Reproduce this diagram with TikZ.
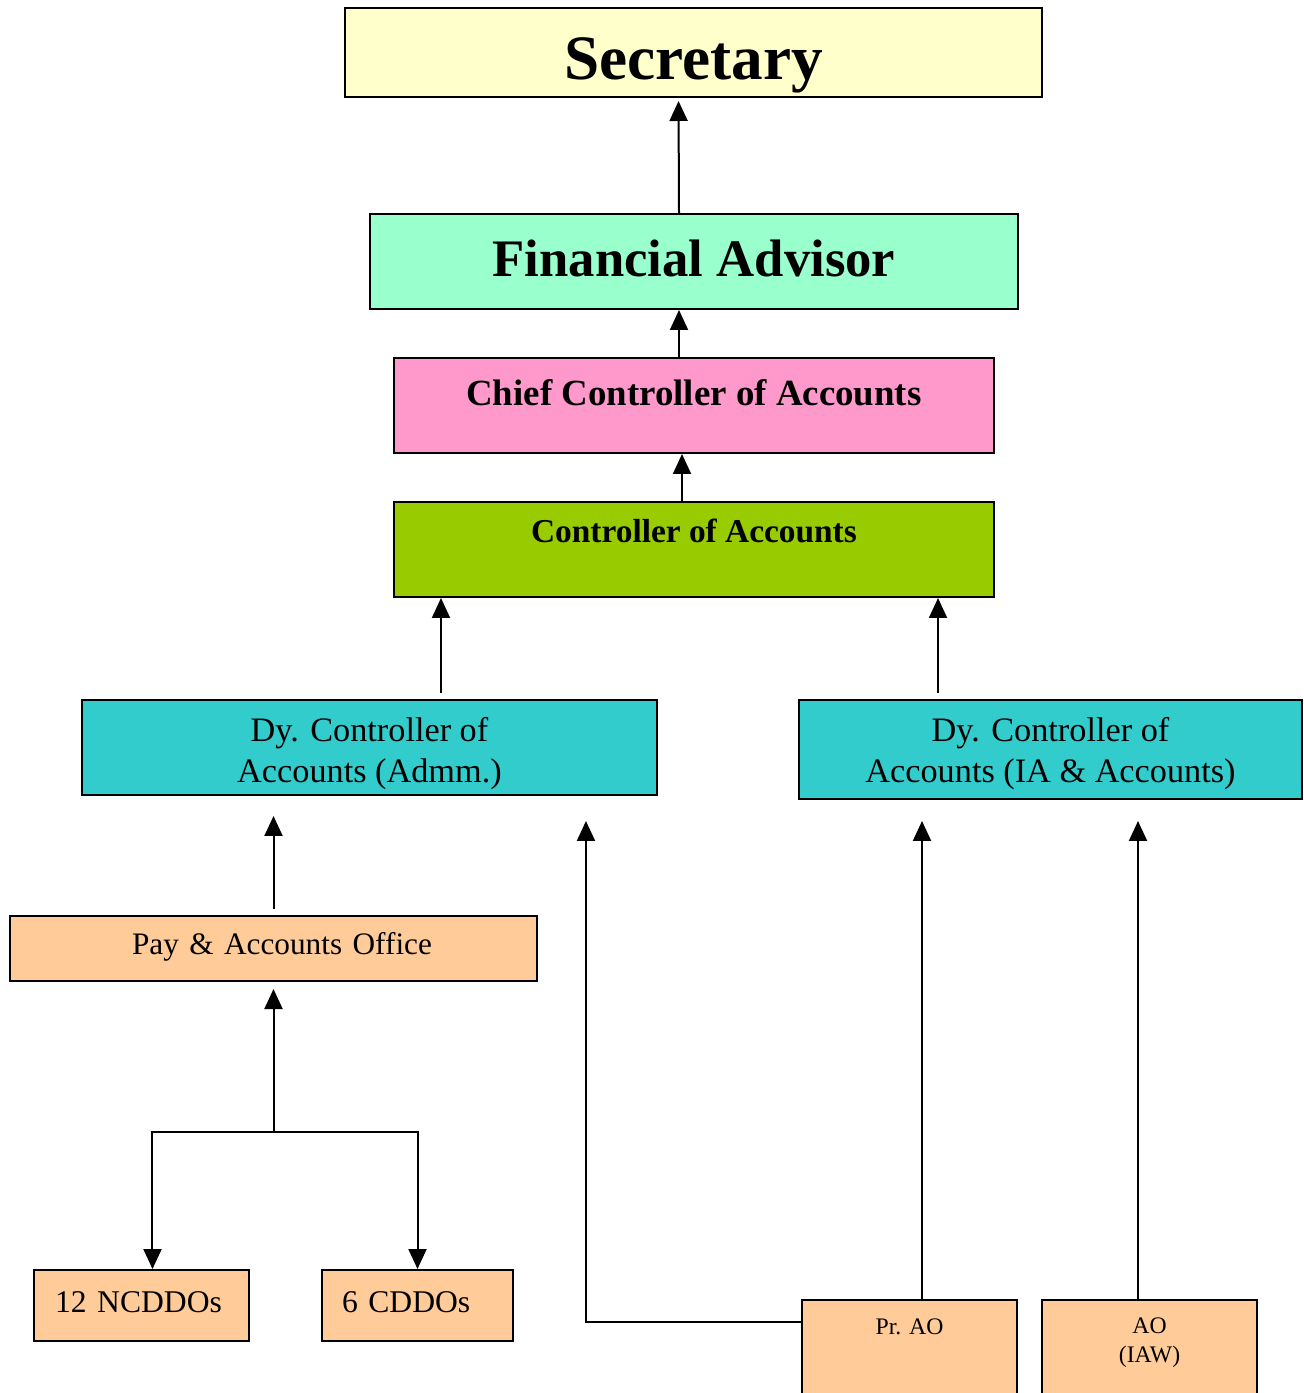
\documentclass[tikz,border=0pt]{standalone}
\usepackage{fontspec}
\setmainfont{Liberation Serif}
\usetikzlibrary{arrows.meta}
\definecolor{secyellow}{HTML}{FFFFCC}
\definecolor{famint}{HTML}{99FFCC}
\definecolor{ccapink}{HTML}{FF99CC}
\definecolor{coalime}{HTML}{99CC00}
\definecolor{dyteal}{HTML}{33CCCC}
\definecolor{officepeach}{HTML}{FFCC99}
\tikzset{
  box/.style={draw, line width=0.04cm, inner sep=0pt},
  dybox/.style={box, fill=dyteal, align=center, font=\fontsize{19.5}{23}\selectfont, text depth=0cm},
  ddo/.style={box, fill=officepeach, align=left, minimum height=1.42cm,
    font=\fontsize{18}{21}\selectfont, text height=0.46cm, text depth=0.2cm},
  ao/.style={box, fill=officepeach, align=center, minimum width=4.3cm, minimum height=2.8cm,
    font=\fontsize{13.5}{16}\selectfont, text height=0.3cm},
}
\begin{document}
\begin{tikzpicture}[x=0.02cm, y=-0.02cm]
  \useasboundingbox (0,0) rectangle (1303,1393);
  \path
    (693.5,52.5) node[box, fill=secyellow, minimum width=13.94cm, minimum height=1.78cm,
      font=\fontsize{36}{40}\selectfont\bfseries, text height=1.1cm, text depth=0cm] (sec){Secretary}
    (694,261.5) node[box, fill=famint, minimum width=12.96cm, minimum height=1.9cm,
      font=\fontsize{30}{34}\selectfont\bfseries, text height=0.58cm, text depth=0cm] (fa){Financial Advisor}
    (694,405.5) node[box, fill=ccapink, minimum width=12cm, minimum height=1.9cm,
      font=\fontsize{21}{25}\selectfont\bfseries, text height=0.3cm, text depth=0.3cm] (cca){Chief Controller of Accounts}
    (694,549.5) node[box, fill=coalime, minimum width=12cm, minimum height=1.9cm,
      font=\fontsize{19}{23}\selectfont\bfseries, text height=0.3cm, text depth=0.6cm] (coa){Controller of Accounts}
    (369.5,747.5) node[dybox, minimum width=11.5cm, minimum height=1.9cm, text height=1.38cm] (dyadm){Dy. Controller of\\Accounts (Admm.)}
    (1050.5,749.5) node[dybox, minimum width=10.06cm, minimum height=1.98cm, text height=1.3cm] (dyia){Dy. Controller of\\Accounts (IA \& Accounts)}
    (273.5,948.5) node[box, fill=officepeach, minimum height=1.3cm, align=right, text width=6.34cm, inner xsep=2.1cm,
      font=\fontsize{17.8}{21}\selectfont, text height=0.42cm, text depth=0.2cm] (pao){Pay \& Accounts Office}
    (141.5,1305.5) node[ddo, text width=3.46cm, inner xsep=0.42cm] (ncddo){12 NCDDOs}
    (417.5,1305.5) node[ddo, text width=3.02cm, inner xsep=0.4cm] (cddo){6 CDDOs}
    (909.5,1370) node[ao, text depth=1.74cm] (prao){Pr. AO}
    (1149.5,1370) node[ao, text depth=0.62cm] (aoiaw){AO\\(IAW)};
  \coordinate (fork) at (273.5,1132);
  \begin{scope}[-{Triangle[length=0.4cm, width=0.36cm]}, line width=0.04cm]
    \draw[shorten >=0.06cm] ([xshift=-0.3cm]fa.north) to ([xshift=-0.3cm]sec.south);
    \draw ([xshift=-0.3cm]cca.north) to ([xshift=-0.3cm]fa.south);
    \draw ([xshift=-0.24cm]coa.north) to ([xshift=-0.24cm]cca.south);
    \draw[shorten <=0.12cm] ([xshift=1.43cm]dyadm.north) to ([xshift=1.43cm]dyadm.north |- coa.south);
    \draw[shorten <=0.12cm] ([xshift=-2.25cm]dyia.north) to ([xshift=-2.25cm]dyia.north |- coa.south);
    \draw[shorten <=0.12cm, shorten >=0.4cm] (pao.north) to (pao.north |- dyadm.south);
    \draw[shorten >=0.14cm] (fork) to (fork |- pao.south);
    \draw (fork) -| ([xshift=0.22cm]ncddo.north);
    \draw (fork) -| (cddo.north);
    \draw[shorten >=0.5cm] ([yshift=-0.46cm]prao.north west) -| ([xshift=4.33cm]dyadm.south);
    \draw[shorten >=0.42cm] ([xshift=0.25cm]prao.north) to ([xshift=0.25cm]prao.north |- dyia.south);
    \draw[shorten >=0.42cm] ([xshift=-0.23cm]aoiaw.north) to ([xshift=-0.23cm]aoiaw.north |- dyia.south);
  \end{scope}
\end{tikzpicture}
\end{document}
